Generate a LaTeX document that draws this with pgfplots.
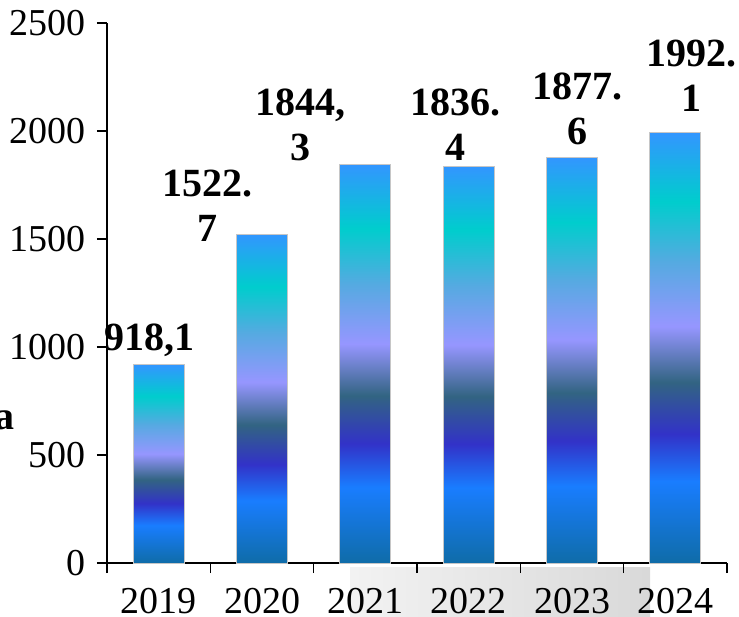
\documentclass[border=0pt]{standalone}
\usepackage{fontspec}
\setmainfont{Liberation Serif}
\usepackage{pgfplots}
\pgfplotsset{compat=1.18}

\definecolor{c0}{RGB}{15,108,168}
\definecolor{c1}{RGB}{25,125,255}
\definecolor{c2}{RGB}{50,50,200}
\definecolor{c3}{RGB}{50,100,130}
\definecolor{c4}{RGB}{150,150,255}
\definecolor{c5}{RGB}{85,170,225}
\definecolor{c6}{RGB}{0,205,205}
\definecolor{c7}{RGB}{50,150,255}
\pgfdeclareverticalshading{barshade}{100bp}{color(0bp)=(c0); color(25bp)=(c0);
  color(34.5bp)=(c1); color(40bp)=(c2); color(46bp)=(c3); color(52.5bp)=(c4);
  color(60bp)=(c5); color(67bp)=(c6); color(75bp)=(c7); color(100bp)=(c7)}

\begin{document}
\begin{tikzpicture}
\path[use as bounding box] (-53.5pt,-26.5pt) rectangle (316pt,281.5pt);
% grey patch behind the year labels
\shade[left color=gray!10, right color=gray!30] (121.5pt,-2pt) rectangle (271.5pt,-27pt);
\node[font=\fontsize{20}{24}\selectfont\bfseries] at (-51pt,71.5pt) {a};
\begin{axis}[
  at={(0,0)}, anchor=south west,
  scale only axis, width=310pt, height=270pt,
  xmin=-0.5, xmax=5.5, ymin=0, ymax=2500,
  axis x line*=bottom, axis y line*=left,
  axis line style={black, line width=0.8pt},
  tick align=outside,
  xtick={0,...,5}, xticklabels={2019,2020,2021,2022,2023,2024},
  minor xtick={-0.5,0.5,...,5.5},
  ytick={0,500,...,2500},
  major tick length=5pt, minor tick length=5pt,
  x tick style={draw=none}, minor x tick style={draw=black, line width=0.8pt},
  y tick style={black, line width=0.8pt},
  ticklabel style={font=\fontsize{19}{23}\selectfont},
  xticklabel style={yshift=-4pt},
  yticklabel style={xshift=-2pt},
  /pgf/number format/assume math mode=true,
  scaled y ticks=false, yticklabel style={/pgf/number format/1000 sep={}},
  clip=false,
  barsty/.style={ybar, bar width=25.5pt, draw=gray!45, line width=0.5pt, shade, shading=barshade, mark=none},
]
% one plot per bar so that each bar carries its own gradient
\addplot[barsty] coordinates {(0,918.1)};
\addplot[barsty] coordinates {(1,1522.7)};
\addplot[barsty] coordinates {(2,1844.3)};
\addplot[barsty] coordinates {(3,1836.4)};
\addplot[barsty] coordinates {(4,1877.6)};
\addplot[barsty] coordinates {(5,1992.1)};
\begin{scope}[every node/.style={font=\fontsize{20}{22.5}\selectfont\bfseries, align=center}]
\node at (axis cs:-0.084,1032) {918,1};
\node at (axis cs:0.468,1655) {1522.\\7};
\node at (axis cs:1.368,2030) {1844,\\3};
\node at (axis cs:2.868,2030) {1836.\\4};
\node at (axis cs:4.058,2104) {1877.\\6};
\node at (axis cs:5.161,2255) {1992.\\1};
\end{scope}
\end{axis}
\end{tikzpicture}
\end{document}
